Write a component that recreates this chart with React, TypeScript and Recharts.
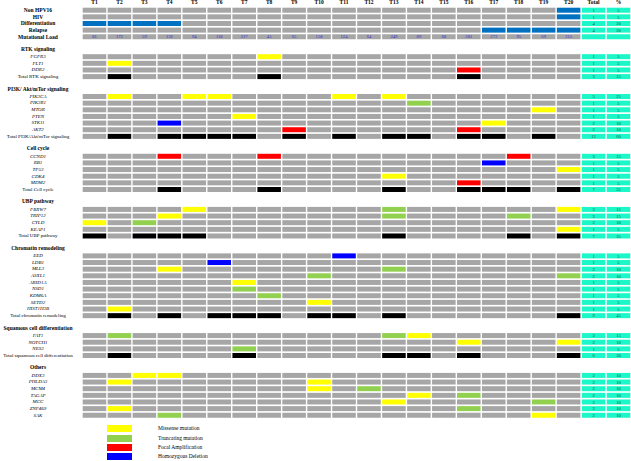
import React from 'react';
import { BarChart, Bar, XAxis, YAxis } from 'recharts';

// columns: tumours, then summary columns
const COLUMNS = ['T1', 'T2', 'T3', 'T4', 'T5', 'T6', 'T7', 'T8', 'T9', 'T10',
    'T11', 'T12', 'T13', 'T14', 'T15', 'T16', 'T17', 'T18', 'T19', 'T20', 'Total', '%'];

// pattern codes per tumour: . none, M missense, T truncating, A amplification, D deletion, X altered (total), B clinical flag
type GeneRow = [string, string, number, number];

const CLINICAL_ROWS: GeneRow[] = [
    ['Non HPV16', '...................B', 1, 5],
    ['HIV', '...................B', 1, 5],
    ['Differentiation', 'BBBB................', 4, 20],
    ['Relapse', '................BBBB', 4, 20],
];

const MUTATIONAL_LOAD = [81, 172, 59, 136, 94, 118, 217, 45, 65, 158, 124, 64, 249, 89, 60, 281, 272, 95, 69, 215];

const RTK_ROWS: GeneRow[] = [
    ['FGFR3', '.......M............', 1, 5],
    ['FLT1', '.M..................', 1, 5],
    ['DDR2', '...............A....', 1, 5],
    ['Total RTK signaling', '.X.....X.......X....', 3, 15],
];

const PI3K_ROWS: GeneRow[] = [
    ['PIK3CA', '.M..MM....M.M.......', 5, 25],
    ['PIK3R1', '.............T......', 1, 5],
    ['MTOR', '..................M.', 1, 5],
    ['PTEN', '......M.............', 1, 5],
    ['STK11', '...D............M...', 2, 10],
    ['AKT2', '........A......A....', 2, 10],
    ['Total PI3K/Akt/mTor signaling', '.X.XXXX.X.X.XX.XX.X.', 12, 60],
];

const CELL_CYCLE_ROWS: GeneRow[] = [
    ['CCND1', '...A...A.........A..', 3, 15],
    ['RB1', '................D...', 1, 5],
    ['TP53', '...................M', 1, 5],
    ['CDK4', '............M.......', 1, 5],
    ['MDM2', '...............A....', 1, 5],
    ['Total Cell cycle', '...X...X....X..XXX.X', 7, 35],
];

const UBP_ROWS: GeneRow[] = [
    ['FBXW7', '....M.......T......M', 3, 15],
    ['TRIP12', '...M........T....T..', 3, 15],
    ['CYLD', 'M.T.................', 2, 10],
    ['KEAP1', '...................M', 1, 5],
    ['Total UBP pathway', 'X.XXX.......X....X.X', 7, 35],
];

const CHROMATIN_ROWS: GeneRow[] = [
    ['EED', '..........D.........', 1, 5],
    ['LDB1', '.....D..............', 1, 5],
    ['MLL3', '...M........T.......', 2, 10],
    ['ASXL1', '.........T.........T', 2, 10],
    ['ARID1A', '......M.............', 1, 5],
    ['NSD1', '......T.............', 1, 5],
    ['KDM6A', '.......T............', 1, 5],
    ['SETD2', '.........M..........', 1, 5],
    ['HIST1H3B', '.M..................', 1, 5],
    ['Total chromatin remodeling', '.X.X.XXX.XX.X......X', 9, 45],
];

const SQUAMOUS_ROWS: GeneRow[] = [
    ['FAT1', '.T..........TM......', 3, 15],
    ['NOTCH1', '...............M...M', 2, 10],
    ['NES3', '......T.............', 1, 5],
    ['Total squamous cell differentiation', '.X....X.....XX.X...X', 6, 30],
];

const OTHER_ROWS: GeneRow[] = [
    ['DDX3', '..MM................', 2, 10],
    ['PHLDA3', '.M.......M..........', 2, 10],
    ['MCM4', '.........M.T........', 2, 10],
    ['TAGAP', '.............M.T....', 2, 10],
    ['MCC', '............M.....T.', 2, 10],
    ['ZNF469', '.M.............T....', 2, 10],
    ['SAK', '...T..............M.', 2, 10],
];

const SECTION_TITLES = ['RTK signaling', 'PI3K/ Akt/mTor signaling', 'Cell cycle', 'UBP pathway',
    'Chromatin remodeling', 'Squamous cell differentiation', 'Others'];
const SECTION_ROWS = [RTK_ROWS, PI3K_ROWS, CELL_CYCLE_ROWS, UBP_ROWS, CHROMATIN_ROWS, SQUAMOUS_ROWS, OTHER_ROWS];

const LEGEND_LABELS = ['Missense mutation', 'Truncating mutation', 'Focal Amplification', 'Homozygous Deletion'];
const LEGEND_CODES = ['M', 'T', 'A', 'D'];

const CODE_COLORS: Record<string, string> = {
    '.': '#A6A6A6', M: '#FFFF00', T: '#92D050', A: '#FF0000', D: '#0000FF', X: '#000000', B: '#0070C0',
};
const CYAN = '#1CF7C9';
const FONT = '"Liberation Serif", "DejaVu Serif", serif';

interface Row {
    id: string;
    label: string;
    kind: 'clinical' | 'load' | 'blank' | 'header' | 'gene' | 'total';
    pattern?: string;
    total?: number;
    pct?: number;
    [key: string]: any;
}

const buildRows = (): Row[] => {
    const rows: Row[] = [];
    const fill = (r: Row) => {
        COLUMNS.forEach((_, i) => { r[`c${i}`] = 1; });
        return r;
    };
    CLINICAL_ROWS.forEach(([label, pattern, total, pct]) =>
        rows.push(fill({ id: label, label, kind: 'clinical', pattern, total, pct })));
    rows.push(fill({ id: 'load', label: 'Mutational Load', kind: 'load' }));
    SECTION_TITLES.forEach((title, s) => {
        rows.push({ id: `blank${s}`, label: '', kind: 'blank' });
        rows.push({ id: `head${s}`, label: title, kind: 'header' });
        SECTION_ROWS[s].forEach(([label, pattern, total, pct]) =>
            rows.push(fill({
                id: `${s}-${label}`, label, pattern, total, pct,
                kind: label.startsWith('Total') ? 'total' : 'gene',
            })));
    });
    return rows;
};

const ROWS = buildRows();
const ROW_BY_ID: Record<string, Row> = Object.fromEntries(ROWS.map(r => [r.id, r]));
const X_TICKS = COLUMNS.map((_, i) => i + 0.5);

const renderCell = (props: any, col: number) => {
    const { x, y, width, height, payload } = props;
    if (!payload || payload.kind === 'blank' || payload.kind === 'header' || !(width > 0)) return <g />;
    let color = CODE_COLORS['.'];
    let text: string | null = null;
    let textColor = '#0B5F3A';
    if (col >= 20) {
        color = CYAN;
        if (payload.kind !== 'load') text = String(col === 20 ? payload.total : payload.pct);
    } else if (payload.kind === 'load') {
        text = String(MUTATIONAL_LOAD[col]);
        textColor = '#2B2BD0';
    } else {
        color = CODE_COLORS[payload.pattern[col]] || CODE_COLORS['.'];
    }
    return (
        <g>
            <rect x={x + 0.7} y={y} width={width - 1.4} height={height} fill={color} />
            {text && (
                <text x={x + width / 2} y={y + height / 2 + 0.2} textAnchor="middle" dominantBaseline="central"
                    fontSize={4.6} fontFamily={FONT} fill={textColor}>{text}</text>
            )}
        </g>
    );
};

const renderYTick = (props: any) => {
    const row = ROW_BY_ID[props.payload.value];
    if (!row || !row.label) return <g />;
    const bold = row.kind === 'clinical' || row.kind === 'load' || row.kind === 'header';
    return (
        <text x={38} y={props.y + (row.kind === 'header' ? -1.2 : 0)} textAnchor="middle" dominantBaseline="central"
            fontFamily={FONT} fontSize={bold ? 5.5 : 5} fontWeight={bold ? 'bold' : 'normal'}
            fontStyle={row.kind === 'gene' ? 'italic' : 'normal'} fill="#000">
            {row.label}
        </text>
    );
};

const renderXTick = (props: any) => (
    <text x={props.x} y={4.3} textAnchor="middle" fontFamily={FONT} fontSize={5.5} fontWeight="bold" fill="#000">
        {COLUMNS[Math.floor(props.payload.value)]}
    </text>
);

const App: React.FC = () => {
    return (
        <div style={{ position: 'absolute', left: 0, top: 0, width: 631, height: 461, background: '#fff' }}>
            <BarChart width={631} height={461} data={ROWS} layout="vertical" barSize={5}
                margin={{ top: 0.7, right: 0, bottom: 42.6, left: 0 }}>
                <XAxis type="number" domain={[0, 22]} ticks={X_TICKS} orientation="top" height={6}
                    axisLine={false} tickLine={false} tick={renderXTick} interval={0} />
                <YAxis type="category" dataKey="id" width={82} axisLine={false} tickLine={false}
                    interval={0} tick={renderYTick} />
                {COLUMNS.map((c, i) => (
                    <Bar key={c} dataKey={`c${i}`} stackId="grid" isAnimationActive={false}
                        shape={(p: any) => renderCell(p, i)} />
                ))}
            </BarChart>
            <div style={{ position: 'absolute', left: 107, top: 424 }}>
                {LEGEND_LABELS.map((label, i) => (
                    <div key={label} style={{ display: 'flex', alignItems: 'center', height: 9.4 }}>
                        <div style={{ width: 25, height: 7, background: CODE_COLORS[LEGEND_CODES[i]] }} />
                        <span style={{ marginLeft: 26, fontFamily: FONT, fontSize: 5.5, lineHeight: '7px' }}>{label}</span>
                    </div>
                ))}
            </div>
        </div>
    );
};

export default App;
